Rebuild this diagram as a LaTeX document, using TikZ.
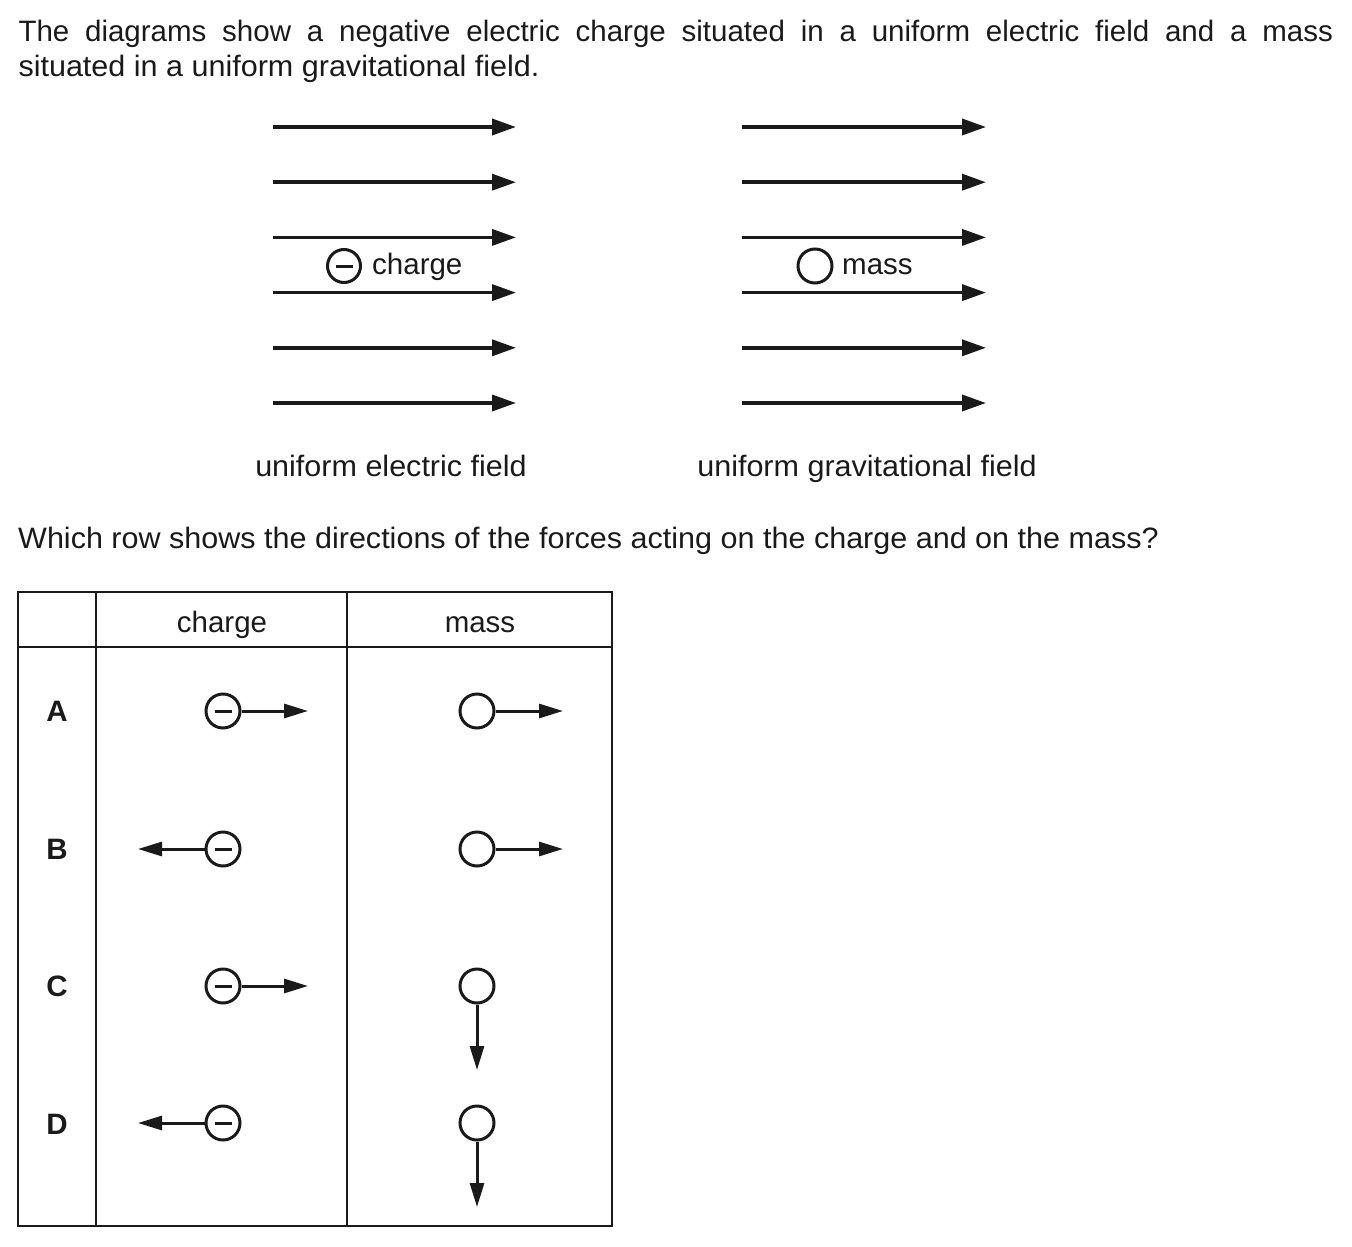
\documentclass[tikz,border=0pt]{standalone}
\usepackage{fontspec}
\setmainfont{Liberation Sans}
\newfontfamily\widefont{Liberation Sans}[FakeStretch=1.035]
\usetikzlibrary{arrows.meta}
\definecolor{ink}{RGB}{26,26,26}
\tikzset{
  txt/.style={inner sep=0pt, text=ink},
  widetxt/.style={txt, font=\fontsize{29.5}{35}\selectfont\widefont},
  fieldarrow/.style={draw=ink, line width=3.5pt, -{Triangle[length=24pt,width=16pt]}},
  forcearrow/.style={draw=ink, line width=3pt, -{Triangle[length=24pt,width=14pt]}},
  body/.style={circle, draw=ink, line width=3pt, minimum size=34pt, inner sep=0pt},
  tableline/.style={draw=ink, line width=1.7pt},
  minus/.style={draw=ink, line width=3pt},
  rowlabel/.style={txt, anchor=base, font=\fontsize{29.5}{35}\selectfont\bfseries}
}
\begin{document}
\begin{tikzpicture}[x=1pt,y=-1pt, font=\fontsize{29.5}{35}\selectfont]
\useasboundingbox (0,0) rectangle (1352,1247);
\fill[white] (0,0) rectangle (1352,1247);

% intro text
\node[txt, anchor=base west] (intro1) at (18.3,41.7)
  {\makebox[1314.5pt][s]{The diagrams show a negative electric charge situated in a uniform electric field and a mass}};
\node[widetxt, anchor=base west] (intro2) at (18.3,76.5)
  {situated in a uniform gravitational field.};

% field lines
\foreach \i in {0,...,5} {
  \pgfmathsetmacro{\yy}{127+55.2*\i}
  \coordinate (els\i) at (273,\yy);
  \coordinate (ele\i) at (516,\yy);
  \coordinate (gls\i) at (742,\yy);
  \coordinate (gle\i) at (986,\yy);
  \draw[fieldarrow] (els\i) -- (ele\i);
  \draw[fieldarrow] (gls\i) -- (gle\i);
}

% charge and mass in fields
\node[body, minimum size=33pt] (charge) at (344,266) {};
\draw[minus] ([xshift=-8.5pt]charge.center) -- ([xshift=8.5pt]charge.center);
\node[txt, anchor=base west] (chargelabel) at (372,274) {charge};
\node[body, minimum size=34pt] (mass) at (815,266) {};
\node[txt, anchor=base west] (masslabel) at (842,274) {mass};

\node[widetxt, anchor=base] (elabel) at (391,476) {uniform electric field};
\node[widetxt, anchor=base] (glabel) at (867,476) {uniform gravitational field};

% question
\node[widetxt, anchor=base west] (question) at (18,548)
  {Which row shows the directions of the forces acting on the charge and on the mass?};

% table
\coordinate (tl) at (18,592);
\coordinate (br) at (612,1226);
\draw[tableline] (tl) rectangle (br);
\draw[tableline] (18,647) -- (612,647);
\draw[tableline] (96,592) -- (96,1226);
\draw[tableline] (347,592) -- (347,1226);

\node[txt, anchor=base] (hcharge) at (222,632) {charge};
\node[txt, anchor=base] (hmass) at (480,632) {mass};

\node[rowlabel] (rA) at (57,721.5) {A};
\node[rowlabel] (rB) at (57,859.5) {B};
\node[rowlabel] (rC) at (57,996.5) {C};
\node[rowlabel] (rD) at (57,1134) {D};

% row A
\node[body] (qA) at (223,711) {};
\draw[minus] ([xshift=-8.5pt]qA.center) -- ([xshift=8.5pt]qA.center);
\coordinate (qAt) at (308,711);
\draw[forcearrow] (qA.east) -- (qAt);
\node[body] (mA) at (477,711) {};
\coordinate (mAt) at (563,711);
\draw[forcearrow] (mA.east) -- (mAt);

% row B
\node[body] (qB) at (223,849) {};
\draw[minus] ([xshift=-8.5pt]qB.center) -- ([xshift=8.5pt]qB.center);
\coordinate (qBt) at (138,849);
\draw[forcearrow] (qB.west) -- (qBt);
\node[body] (mB) at (477,849) {};
\coordinate (mBt) at (563,849);
\draw[forcearrow] (mB.east) -- (mBt);

% row C
\node[body] (qC) at (223,986) {};
\draw[minus] ([xshift=-8.5pt]qC.center) -- ([xshift=8.5pt]qC.center);
\coordinate (qCt) at (308,986);
\draw[forcearrow] (qC.east) -- (qCt);
\node[body] (mC) at (477,986) {};
\coordinate (mCt) at (477,1070);
\draw[forcearrow] (mC.south) -- (mCt);

% row D
\node[body] (qD) at (223,1123) {};
\draw[minus] ([xshift=-8.5pt]qD.center) -- ([xshift=8.5pt]qD.center);
\coordinate (qDt) at (138,1123);
\draw[forcearrow] (qD.west) -- (qDt);
\node[body] (mD) at (477,1123) {};
\coordinate (mDt) at (477,1207);
\draw[forcearrow] (mD.south) -- (mDt);
\end{tikzpicture}
\end{document}
